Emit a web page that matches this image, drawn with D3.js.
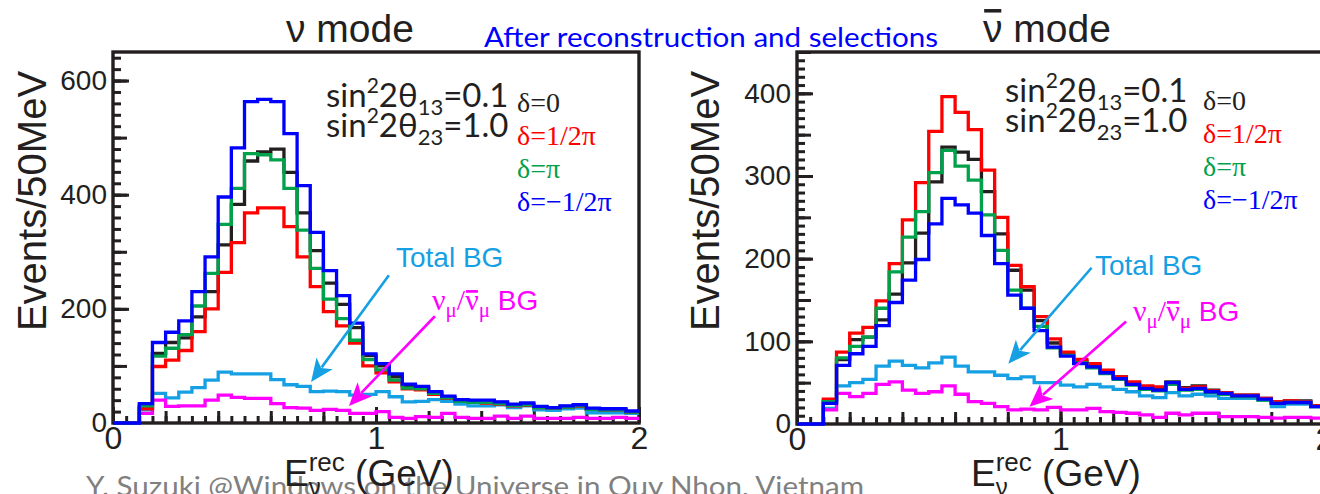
<!DOCTYPE html>
<html>
<head>
<meta charset="utf-8">
<script src="https://cdn.jsdelivr.net/npm/d3@7"></script>
<style>
  html, body { margin: 0; padding: 0; background: #fff; }
  svg { display: block; }
  text { white-space: pre; }
</style>
</head>
<body>
<svg id="chart" width="1320" height="494"></svg>
<script>
// lower edges of the 50 MeV bins (GeV)
const eBins = [0.00, 0.05, 0.10, 0.15, 0.20, 0.25, 0.30, 0.35, 0.40, 0.45,
               0.50, 0.55, 0.60, 0.65, 0.70, 0.75, 0.80, 0.85, 0.90, 0.95,
               1.00, 1.05, 1.10, 1.15, 1.20, 1.25, 1.30, 1.35, 1.40, 1.45,
               1.50, 1.55, 1.60, 1.65, 1.70, 1.75, 1.80, 1.85, 1.90, 1.95];
const eMax = 2.0;

// nu mode, events / 50 MeV
const nuDelta0        = [0,0,28,122,141,149,186,230,312,383,459,475,480,439,368,302,245,208,167,118,100,81,66,62,53,45,40,38,38,36,32,33,28,27,29,31,25,24,24,20];
const nuDeltaHalfPi   = [0,0,25,99,110,127,160,200,264,316,368,377,377,344,291,239,195,170,140,100,88,72,60,58,50,43,38,36,35,33,30,31,27,26,28,29,24,23,23,19];
const nuDeltaPi       = [0,0,30,117,131,155,205,262,348,411,472,470,461,411,338,271,217,183,145,111,93,75,61,60,52,44,38,36,36,34,31,32,27,26,28,30,24,23,23,19];
const nuDeltaMHalfPi  = [0,0,34,141,159,179,230,291,396,482,563,567,563,507,416,334,267,223,175,121,104,86,68,64,55,47,41,40,40,37,33,35,29,27,30,32,26,25,25,21];
const nuTotalBG       = [0,0,23,52,44,54,62,75,89,86,86,86,76,67,64,55,56,55,49,50,55,46,37,38,41,38,33,30,30,32,27,30,23,22,25,26,18,18,18,17];
const nuMuBG          = [0,0,17,40,29,30,30,40,49,45,43,43,34,27,26,22,24,22,17,17,20,10,8,11,10,17,10,8,8,12,8,12,8,8,8,10,8,8,10,8];

// anti-nu mode, events / 50 MeV
const nubarDelta0       = [0,0,28,78,102,105,126,157,195,231,293,335,329,320,281,230,186,162,125,98,85,76,71,64,57,50,45,42,51,44,46,41,38,35,35,31,27,28,28,22];
const nubarDeltaHalfPi  = [0,0,30,87,110,117,149,194,247,292,354,396,377,356,307,250,192,166,130,103,87,78,73,65,57,51,46,45,50,43,45,40,38,35,35,31,27,28,27,22];
const nubarDeltaPi      = [0,0,27,80,94,105,140,184,226,257,304,331,312,295,253,210,162,140,118,92,83,74,68,61,54,47,42,40,48,41,42,38,36,33,33,29,25,26,26,21];
const nubarDeltaMHalfPi = [0,0,25,71,85,94,119,147,174,199,242,273,265,255,228,194,156,140,113,93,82,73,69,62,55,48,43,41,50,42,43,39,37,34,34,30,25,26,26,21];
const nubarTotalBG      = [0,0,19,46,50,54,70,76,71,68,74,81,70,63,63,59,55,57,50,50,47,45,48,45,42,39,34,32,38,34,36,34,31,31,31,29,21,24,24,21];
const nubarMuBG         = [0,0,17,37,33,37,48,51,41,37,39,46,36,27,25,21,17,18,17,20,17,17,19,15,14,13,11,8,13,11,13,13,9,9,9,8,7,8,8,7];

const deltaLabels = ['δ=0', 'δ=1/2π', 'δ=π', 'δ=−1/2π'];

const INK = '#231f20', RED = '#ff0000', GREEN = '#00a14b', BLUE = '#0000ff';
const CYAN = '#16a0e4', MAGENTA = '#ff00ff';
const SANS = '"Liberation Sans", Arial, sans-serif';
const SERIF = '"Liberation Serif", "Times New Roman", serif';
const CAL = 'Lato, "Open Sans", sans-serif';

const svg = d3.select('#chart');
svg.append('rect').attr('width', 1320).attr('height', 494).attr('fill', '#fff');

// footer sits underneath the figure
svg.append('text').attr('x', 86).attr('y', 496)
    .attr('font-family', CAL).attr('font-size', 27).attr('fill', '#808080')
    .attr('textLength', 778).attr('lengthAdjust', 'spacingAndGlyphs')
    .text('Y. Suzuki @Windows on the Universe in Quy Nhon, Vietnam');

// Lay out a row of text runs (sub/superscripts, overbars) left to right.
// A run with hold:true does not advance, so the next run stacks on it.
function richText(parent, x, y, parts, anchor) {
    const grp = parent.append('g');
    let cx = 0, held = 0;
    parts.forEach(p => {
        const dy = p.dy || 0;
        const t = grp.append('text')
            .attr('x', cx).attr('y', dy)
            .attr('font-family', p.f).attr('font-size', p.s)
            .attr('fill', p.c).text(p.t);
        const w = t.node().getComputedTextLength();
        if (p.bar) {
            const by = dy - p.s * p.bar;
            grp.append('line')
                .attr('x1', cx + w * 0.06).attr('x2', cx + w * 0.94)
                .attr('y1', by).attr('y2', by)
                .attr('stroke', p.c).attr('stroke-width', Math.max(1.6, p.s * 0.09));
        }
        if (p.hold) held = Math.max(held, w);
        else { cx += Math.max(w, held); held = 0; }
    });
    const sx = anchor === 'middle' ? x - cx / 2 : x;
    grp.attr('transform', `translate(${sx},${y})`);
    return grp;
}

function histPath(x, y, vals) {
    const pts = eBins.map((e, i) => [e, vals[i]]);
    pts.push([eMax, vals[vals.length - 1]]);
    return d3.line().x(d => x(d[0])).y(d => y(d[1])).curve(d3.curveStepAfter)(pts);
}

function arrow(g, x, y, from, to, color) {
    const x1 = x(from[0]), y1 = y(from[1]), x2 = x(to[0]), y2 = y(to[1]);
    const len = Math.hypot(x2 - x1, y2 - y1), ux = (x2 - x1) / len, uy = (y2 - y1) / len;
    const L = 23, Wd = 10;
    const bx = x2 - ux * L, by = y2 - uy * L;
    g.append('line').attr('x1', x1).attr('y1', y1).attr('x2', bx + ux * 5).attr('y2', by + uy * 5)
        .attr('stroke', color).attr('stroke-width', 2.6);
    const head = [[x2, y2], [bx - uy * Wd, by + ux * Wd], [x2 - ux * L * 0.75, y2 - uy * L * 0.75], [bx + uy * Wd, by - ux * Wd]];
    g.append('path').attr('d', 'M' + head.join('L') + 'Z').attr('fill', color);
}

function drawPanel(cfg) {
    const x = d3.scaleLinear().domain([0, eMax]).range([cfg.left, cfg.right]);
    const y = d3.scaleLinear().domain([0, cfg.yMax]).range([cfg.bottom, cfg.top]);
    const g = svg.append('g');

    // frame
    g.append('rect')
        .attr('x', cfg.left).attr('y', cfg.top)
        .attr('width', cfg.right - cfg.left).attr('height', cfg.bottom - cfg.top)
        .attr('fill', 'none').attr('stroke', INK).attr('stroke-width', 3.4);

    // three tick levels on each axis, all pointing inward
    const xLevels = [[0.05, 7, false], [0.2, 12, false], [1, 16, true]];
    xLevels.forEach(([step, size, labelled]) => {
        const ax = d3.axisBottom(x).tickValues(d3.range(0, eMax + 1e-6, step))
            .tickSizeInner(-size).tickSizeOuter(0).tickPadding(3)
            .tickFormat(labelled ? d3.format('d') : '');
        const a = g.append('g').attr('transform', `translate(0,${cfg.bottom})`).call(ax);
        a.select('.domain').remove();
        a.selectAll('line').attr('stroke', INK).attr('stroke-width', 3);
        a.selectAll('text').attr('font-family', SANS).attr('font-size', 32).attr('fill', INK);
    });
    cfg.yLevels.forEach(([step, size, labelled]) => {
        const ax = d3.axisLeft(y).tickValues(d3.range(0, cfg.yMax + 1e-6, step))
            .tickSizeInner(-size).tickSizeOuter(0).tickPadding(6)
            .tickFormat(labelled ? d3.format('d') : '');
        const a = g.append('g').attr('transform', `translate(${cfg.left},0)`).call(ax);
        a.select('.domain').remove();
        a.selectAll('line').attr('stroke', INK).attr('stroke-width', 3);
        a.selectAll('text').attr('font-family', SANS).attr('font-size', 28).attr('fill', INK);
    });

    // histograms, backgrounds first, blue on top
    cfg.series.forEach(s => {
        g.append('path').attr('d', histPath(x, y, s.vals))
            .attr('fill', 'none').attr('stroke', s.color)
            .attr('stroke-width', 3.3).attr('stroke-linejoin', 'miter');
    });

    // axis titles
    g.append('text')
        .attr('transform', `translate(${cfg.yTitleX},${cfg.yTitleY}) rotate(-90)`)
        .attr('text-anchor', 'middle').attr('font-family', SANS).attr('font-size', 40)
        .attr('fill', INK).text('Events/50MeV');
    richText(g, cfg.xTitleX, cfg.xTitleY, [
        { t: 'E', f: SANS, s: 37, c: INK },
        { t: 'ν', f: SANS, s: 24, c: INK, dy: 9, hold: true },
        { t: 'rec', f: SANS, s: 26, c: INK, dy: -15 },
        { t: ' (GeV)', f: SANS, s: 37, c: INK }
    ], 'start');

    // title
    richText(g, cfg.titleX, 42, cfg.title, 'start');

    // oscillation parameters
    [['13', '=0.1'], ['23', '=1.0']].forEach(([sub, val], i) => {
        richText(g, cfg.paramX, cfg.paramY + i * 30, [
            { t: 'sin', f: CAL, s: 33, c: INK },
            { t: '2', f: CAL, s: 21, c: INK, dy: -14 },
            { t: '2θ', f: CAL, s: 33, c: INK },
            { t: sub, f: CAL, s: 22, c: INK, dy: 8 },
            { t: val, f: CAL, s: 33, c: INK }
        ], 'start');
    });

    // delta legend
    const legColors = [INK, RED, GREEN, BLUE];
    deltaLabels.forEach((lab, i) => {
        g.append('text').attr('x', cfg.legX).attr('y', cfg.legY[i])
            .attr('font-family', SERIF).attr('font-size', 28).attr('fill', legColors[i])
            .text(lab);
    });

    // background labels and arrows
    g.append('text').attr('x', cfg.totalLab[0]).attr('y', cfg.totalLab[1])
        .attr('font-family', SANS).attr('font-size', 28).attr('fill', CYAN).text('Total BG');
    richText(g, cfg.muLab[0], cfg.muLab[1], [
        { t: 'ν', f: SERIF, s: 30, c: MAGENTA },
        { t: 'μ', f: SERIF, s: 21, c: MAGENTA, dy: 7 },
        { t: '/', f: SERIF, s: 30, c: MAGENTA },
        { t: 'ν', f: SERIF, s: 30, c: MAGENTA, bar: 0.62 },
        { t: 'μ', f: SERIF, s: 21, c: MAGENTA, dy: 7 },
        { t: ' BG', f: SANS, s: 28, c: MAGENTA }
    ], 'start');
    arrow(g, x, y, cfg.totalArrow[0], cfg.totalArrow[1], CYAN);
    arrow(g, x, y, cfg.muArrow[0], cfg.muArrow[1], MAGENTA);
}

drawPanel({
    left: 113, right: 639, top: 52, bottom: 423, yMax: 650,
    yLevels: [[20, 8, false], [100, 14, false], [200, 16, true]],
    series: [
        { vals: nuTotalBG, color: CYAN }, { vals: nuMuBG, color: MAGENTA },
        { vals: nuDelta0, color: INK }, { vals: nuDeltaHalfPi, color: RED },
        { vals: nuDeltaPi, color: GREEN }, { vals: nuDeltaMHalfPi, color: BLUE }
    ],
    title: [{ t: 'ν mode', f: SANS, s: 39, c: INK }], titleX: 286,
    yTitleX: 46, yTitleY: 201, xTitleX: 284, xTitleY: 486,
    paramX: 326, paramY: 107, legX: 517, legY: [112, 145, 178, 211],
    totalLab: [396, 267], muLab: [432, 310],
    totalArrow: [[1.049, 259], [0.753, 72]],
    muArrow: [[1.224, 187], [0.897, 30]]
});

drawPanel({
    left: 797, right: 1324, top: 52, bottom: 424, yMax: 450,
    yLevels: [[10, 8, false], [50, 14, false], [100, 16, true]],
    series: [
        { vals: nubarTotalBG, color: CYAN }, { vals: nubarMuBG, color: MAGENTA },
        { vals: nubarDelta0, color: INK }, { vals: nubarDeltaHalfPi, color: RED },
        { vals: nubarDeltaPi, color: GREEN }, { vals: nubarDeltaMHalfPi, color: BLUE }
    ],
    title: [{ t: 'ν', f: SANS, s: 39, c: INK, bar: 0.8 }, { t: ' mode', f: SANS, s: 39, c: INK }], titleX: 983,
    yTitleX: 719, yTitleY: 201, xTitleX: 971, xTitleY: 486,
    paramX: 1005, paramY: 102, legX: 1203, legY: [110, 143, 176, 209],
    totalLab: [1095, 275], muLab: [1133, 321],
    totalArrow: [[1.118, 189], [0.802, 73]],
    muArrow: [[1.249, 124], [0.882, 21]]
});

// slide banner
svg.append('text').attr('x', 484).attr('y', 47)
    .attr('font-family', CAL).attr('font-size', 26).attr('fill', '#0000ff')
    .attr('textLength', 454).attr('lengthAdjust', 'spacingAndGlyphs')
    .text('After reconstruction and selections');
</script>
</body>
</html>
